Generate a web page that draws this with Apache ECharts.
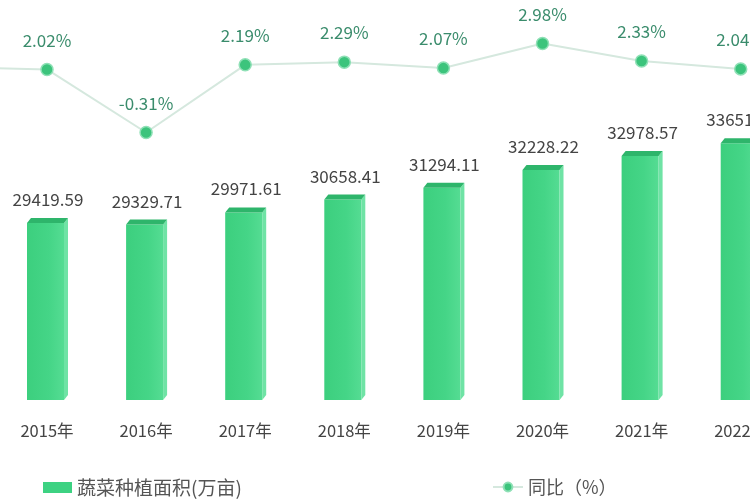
<!DOCTYPE html>
<html>
<head>
<meta charset="utf-8">
<script src="https://cdn.jsdelivr.net/npm/echarts@6/dist/echarts.min.js"></script>
<style>
html,body{margin:0;padding:0;background:#fff;overflow:hidden;width:750px;height:500px;}
#wrap{position:relative;width:750px;height:500px;overflow:hidden;}
#chart{position:absolute;left:-200px;top:0;width:1000px;height:500px;}
</style>
</head>
<body>
<div id="wrap"><div id="chart"></div></div>
<script>
// categories (2014 sits just off the left edge; only its line segment is visible)
const categories = ['2014年','2015年','2016年','2017年','2018年','2019年','2020年','2021年','2022年'];
const areaValues = [null, 29419.59, 29329.71, 29971.61, 30658.41, 31294.11, 32228.22, 32978.57, 33651.36];
const yoyValues = [2.11, 2.02, -0.31, 2.19, 2.29, 2.07, 2.98, 2.33, 2.04];
const barName = '蔬菜种植面积(万亩)';
const lineName = '同比（%）';

const FONT = '"Noto Sans CJK SC","Microsoft YaHei",sans-serif';
const chart = echarts.init(document.getElementById('chart'), null, {renderer:'canvas'});

const barData = [];
areaValues.forEach((v, i) => { if (v != null) barData.push([i, v]); });

function renderBar(params, api) {
  const idx = api.value(0);
  const val = api.value(1);
  const top = api.coord([idx, val]);
  const cs = params.coordSys;
  const yb = cs.y + cs.height;
  const c = top[0];
  const yt = top[1];
  const x0 = c - 20, x1 = c + 17;
  const dx = 4, dy = 5;
  return {
    type: 'group',
    children: [
      { type: 'rect', shape: {x: x0, y: yt, width: x1 - x0, height: yb - yt},
        style: { fill: new echarts.graphic.LinearGradient(0,0,1,0,[
          {offset:0,color:'#3ccf7e'},{offset:0.6,color:'#45d587'},{offset:1,color:'#55dc93'}]) } },
      { type: 'polygon', shape: {points: [[x1, yt], [x1 + dx, yt - dy], [x1 + dx, yb - dy], [x1, yb]]},
        style: { fill: '#6fe3a5' } },
      { type: 'polygon', shape: {points: [[x0, yt], [x1, yt], [x1 + dx, yt - dy], [x0 + dx, yt - dy]]},
        style: { fill: '#2eb56b' } },
      { type: 'text', style: { text: val.toFixed(2), x: c + 1, y: yt - dy - 10,
        align: 'center', verticalAlign: 'bottom', fill: '#444', font: '17px ' + FONT } }
    ]
  };
}

chart.setOption({
  animation: false,
  backgroundColor: '#ffffff',
  grid: { left: 98.35, right: 9.75, top: 24, bottom: 100, containLabel: false },
  xAxis: {
    type: 'category', data: categories,
    axisLine: {show: false}, axisTick: {show: false},
    axisLabel: { color: '#444', fontSize: 16.5, fontFamily: FONT, margin: 22, interval: 0 }
  },
  yAxis: [
    { type: 'value', min: 20000, max: 40000, show: false, splitLine: {show: false} },
    { type: 'value', min: -10.2, max: 3.7, show: false, splitLine: {show: false} }
  ],
  legend: [
    { data: [{name: barName, icon: 'rect'}], left: 243, top: 478, padding: 0, itemWidth: 29, itemHeight: 11, itemGap: 6,
      textStyle: { color: '#555', fontSize: 19, fontFamily: FONT } },
    { data: [lineName], left: 692, top: 478, padding: 0, itemWidth: 30, itemHeight: 11,
      textStyle: { color: '#555', fontSize: 18, fontFamily: FONT } }
  ],
  series: [
    { name: barName, type: 'custom', renderItem: renderBar, data: barData,
      itemStyle: { color: '#3dd282' }, encode: { x: 0, y: 1 } },
    { name: lineName, type: 'line', yAxisIndex: 1, data: yoyValues,
      symbol: 'circle', symbolSize: 12,
      lineStyle: { color: '#d5e8de', width: 2 },
      itemStyle: { color: '#3cc47c', borderColor: '#8fe0b6', borderWidth: 1.5 },
      label: { show: true, position: 'top', distance: 14, formatter: p => p.value.toFixed(2) + '%',
        color: '#3a8c6c', fontSize: 17, fontFamily: FONT } }
  ]
});
</script>
</body>
</html>
